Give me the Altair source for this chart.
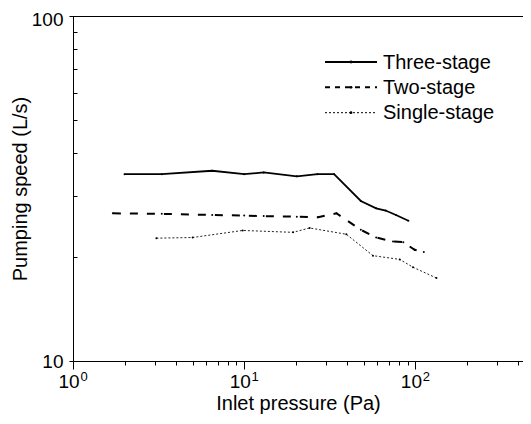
import altair as alt
import pandas as pd

# ---- data ----
series = ["Three-stage", "Two-stage", "Single-stage"]
three_p = [2.0, 3.3, 6.5, 10.0, 13.0, 20.3, 26.8, 33.5, 48.0, 59.0, 67.0, 77.0, 91.0]
three_s = [34.8, 34.8, 35.6, 34.8, 35.2, 34.3, 34.8, 34.8, 29.1, 27.7, 27.3, 26.5, 25.5]
two_p = [1.71, 3.3, 6.5, 10.0, 13.0, 20.3, 27.0, 34.6, 48.0, 59.0, 74.0, 85.0, 99.0, 112.0]
two_s = [26.8, 26.7, 26.5, 26.4, 26.3, 26.2, 26.1, 26.8, 24.0, 22.8, 22.2, 22.1, 21.0, 20.7]
single_p = [3.07, 5.0, 9.8, 19.3, 24.1, 39.5, 56.5, 81.0, 96.8, 132.7]
single_s = [22.7, 22.8, 23.9, 23.6, 24.3, 23.3, 20.2, 19.7, 18.7, 17.4]

x_major = [1, 10, 100]
x_exp = ["0", "1", "2"]
x_minor = [2, 3, 4, 5, 6, 7, 8, 9, 20, 30, 40, 50, 60, 70, 80, 90, 200, 300, 400]
y_major = [10, 100]
y_minor = [20, 30, 40, 50, 60, 70, 80, 90]

FONT = "Liberation Sans, Arial, sans-serif"
W, H = 450, 345
XMAX = 10 ** (W / 171.2)

df3 = pd.DataFrame({"p": three_p, "s": three_s, "series": series[0]})
df2 = pd.DataFrame({"p": two_p, "s": two_s, "series": series[1]})
df1 = pd.DataFrame({"p": single_p, "s": single_s, "series": series[2]})
dfall = pd.concat([df3, df2, df1])

xscale = alt.Scale(type="log", domain=[1, XMAX], nice=False)
yscale = alt.Scale(type="log", domain=[10, 100], nice=False)

common = dict(grid=False, domainColor="black", tickColor="black", labelColor="black",
              titleColor="black", labelFont=FONT, titleFont=FONT, domainWidth=1, tickWidth=1)

exp_expr = "datum.value == 1 ? '" + x_exp[0] + "' : datum.value == 10 ? '" + x_exp[1] + "' : '" + x_exp[2] + "'"

ax_x_major = alt.Axis(orient="bottom", values=x_major, tickSize=8, labelExpr="'10'",
                      labelOffset=-4.5, labelPadding=3, labelFontSize=19, labelFlush=False,
                      labelOverlap=False, title="Inlet pressure (Pa)", titleFontSize=20,
                      titleFontWeight="normal", titlePadding=2, **common)
ax_x_minor = alt.Axis(orient="bottom", values=x_minor, tickSize=4, labels=False,
                      domain=False, title=None, **common)
ax_x_exp = alt.Axis(orient="bottom", values=x_major, ticks=False, tickSize=0, domain=False,
                    labelExpr=exp_expr, labelOffset=10.5, labelPadding=9, labelFontSize=13,
                    labelFlush=False, labelOverlap=False, title=None, **common)
ax_y_major = alt.Axis(orient="left", values=y_major, tickSize=4, format="d", labelPadding=6,
                      labelFontSize=19, labelFlush=False,
                      labelOffset={"condition": {"test": "datum.value == 100", "value": 3}, "value": 0},
                      title="Pumping speed (L/s)", titleFontSize=20,
                      titleFontWeight="normal", titlePadding=1, **common)
ax_y_minor = alt.Axis(orient="left", values=y_minor, tickSize=4, offset=-4, labels=False,
                      domain=False, title=None, **common)

l3 = alt.Chart(df3).mark_line(color="black", strokeWidth=1.8).encode(
    x=alt.X("p:Q", scale=xscale, axis=ax_x_major),
    y=alt.Y("s:Q", scale=yscale, axis=ax_y_major),
)
l2 = alt.Chart(df2).mark_line(color="black", strokeWidth=2, strokeDash=[8, 9]).encode(
    x=alt.X("p:Q", scale=xscale, axis=ax_x_minor),
    y=alt.Y("s:Q", scale=yscale, axis=ax_y_minor),
)
l1 = alt.Chart(df1).mark_line(color="#222222", strokeWidth=1, strokeDash=[2, 2]).encode(
    x=alt.X("p:Q", scale=xscale, axis=ax_x_exp),
    y=alt.Y("s:Q", scale=yscale, axis=None),
)
pts = alt.Chart(dfall).mark_circle(color="black", size=4, opacity=1).encode(
    x=alt.X("p:Q", scale=xscale, axis=None),
    y=alt.Y("s:Q", scale=yscale, axis=None),
)

# top frame line
top = alt.Chart(pd.DataFrame({"a": [0]})).mark_rule(color="black", strokeWidth=1).encode(
    x=alt.value(0), x2=alt.value(W), y=alt.value(0.5)
)

# legend (manual)
leg_y = [46, 71.3, 96.7]
leg_dash = [[1, 0], [5, 5], [2, 2]]
leg_w = [1.8, 2, 1]
legend_layers = []
for name, yy, dash, sw in zip(series, leg_y, leg_dash, leg_w):
    d = pd.DataFrame({"series": [name]})
    legend_layers.append(
        alt.Chart(d).mark_rule(color="black", strokeWidth=sw, strokeDash=dash).encode(
            x=alt.value(252), x2=alt.value(304), y=alt.value(yy))
    )
    legend_layers.append(
        alt.Chart(d).mark_circle(color="black", size=8, opacity=1).encode(
            x=alt.value(278), y=alt.value(yy))
    )
    legend_layers.append(
        alt.Chart(d).mark_text(align="left", baseline="middle", font=FONT, fontSize=20,
                               color="black").encode(
            x=alt.value(310), y=alt.value(yy + 0.5), text="series:N")
    )

chart = alt.layer(l3, l2, l1, pts, top, *legend_layers).resolve_axis(
    x="independent", y="independent"
).properties(
    width=W, height=H, autosize="none",
    padding={"left": 65, "top": 8, "right": 0, "bottom": 55},
    background="white",
).configure_view(stroke=None)

chart.save("out.html", embed_options={"renderer": "svg", "actions": False})
